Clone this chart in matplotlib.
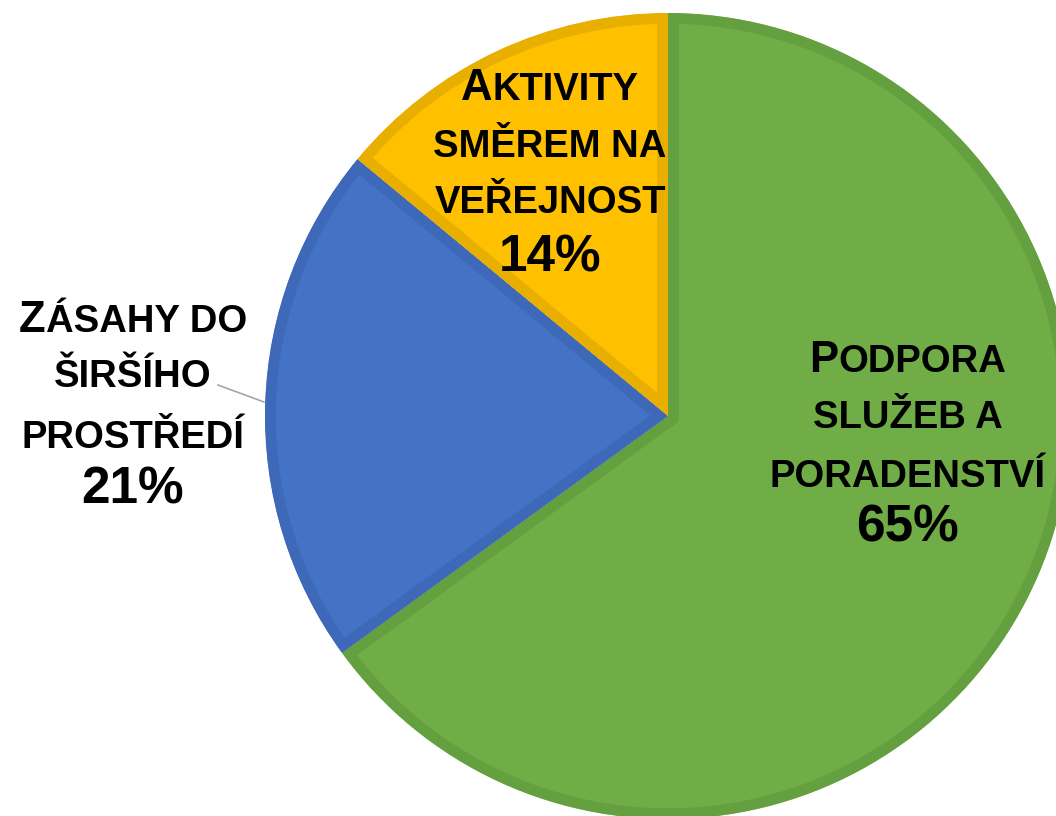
import matplotlib.pyplot as plt

# data
shares = [65, 21, 14]
percent_labels = ["65%", "21%", "14%"]
label_lines = [
    ["PODPORA", "SLUŽEB A", "PORADENSTVÍ"],
    ["ZÁSAHY DO", "ŠIRŠÍHO", "PROSTŘEDÍ"],
    ["AKTIVITY", "SMĚREM NA", "VEŘEJNOST"],
]
fills = ["#70AD47", "#4472C4", "#FFC000"]
edges = ["#64A03F", "#3E68B8", "#E8AE00"]

W, H = 1056, 816
FONT = "Liberation Sans"
BIG, SMALL, PCT = 31.5, 27.5, 37

fig = plt.figure(figsize=(W / 100, H / 100), dpi=100)
ax = fig.add_axes([0, 0, 1, 1])

cx, cy, R = 668, H - 416, 403
wedges, _ = ax.pie(shares, startangle=90, counterclock=False, colors=fills,
                   radius=R, center=(cx, cy),
                   wedgeprops=dict(linewidth=15.5, joinstyle="miter"))
for w, ec in zip(wedges, edges):
    w.set_edgecolor(ec)
    # keep the stroke inside its own wedge
    w.set_clip_on(True)
    w.set_clip_path(w.get_path(), w.get_transform())

ax.set_xlim(0, W)
ax.set_ylim(0, H)
ax.set_aspect("equal")
ax.axis("off")

renderer = fig.canvas.get_renderer()


def draw_line(x, y_img, parts):
    # parts: list of (text, size), laid side by side and centred at x
    texts = []
    for s, size in parts:
        t = ax.text(0, H - y_img, s, fontsize=size, fontweight="bold",
                    family=FONT, ha="left", va="baseline", color="black")
        texts.append(t)
    widths = [t.get_window_extent(renderer).width for t in texts]
    x0 = x - sum(widths) / 2
    for t, w in zip(texts, widths):
        t.set_x(x0)
        x0 += w


def draw_label(x, baselines, lines, pct):
    first = lines[0]
    draw_line(x, baselines[0], [(first[0], BIG), (first[1:], SMALL)])
    for line, b in zip(lines[1:], baselines[1:-1]):
        draw_line(x, b, [(line, SMALL)])
    draw_line(x, baselines[-1], [(pct, PCT)])


label_pos = [
    (908, [372, 428, 487, 542]),
    (133, [332, 387, 448, 503]),
    (550, [100, 157, 213, 272]),
]
for (x, bl), lines, pct in zip(label_pos, label_lines, percent_labels):
    draw_label(x, bl, lines, pct)

# leader line for the outside label
ax.plot([218, 264], [H - 385, H - 402], color="#A6A6A6", lw=1.2)

fig.savefig("out.png", dpi=100)
